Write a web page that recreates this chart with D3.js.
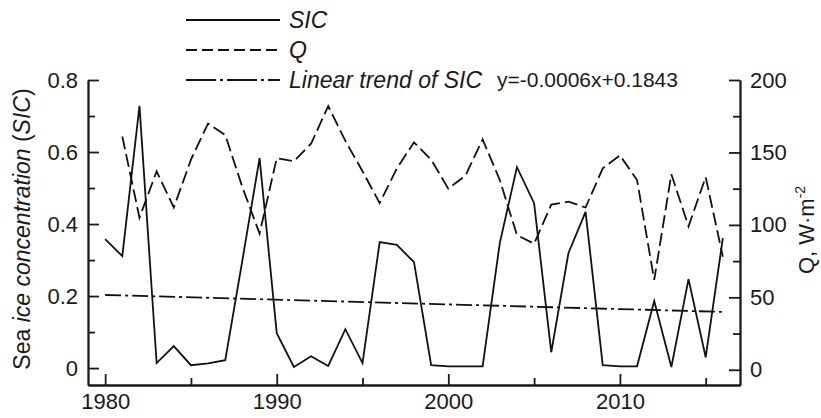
<!DOCTYPE html>
<html>
<head>
<meta charset="utf-8">
<script src="https://cdn.jsdelivr.net/npm/d3@7"></script>
<style>
  body { margin: 0; background: #fff; }
  svg text { font-family: "Liberation Sans", Arial, sans-serif; fill: #1a1a1a; }
</style>
</head>
<body>
<script>
const W = 821, H = 418;

// data
const years = d3.range(1980, 2017);
const sic = [0.358, 0.311, 0.728, 0.014, 0.061, 0.008, 0.013, 0.022, 0.300, 0.583,
             0.097, 0.003, 0.033, 0.006, 0.108, 0.014, 0.350, 0.342, 0.294, 0.008,
             0.005, 0.005, 0.005, 0.347, 0.558, 0.458, 0.044, 0.319, 0.434, 0.008,
             0.005, 0.005, 0.186, 0.003, 0.247, 0.030, 0.361];
const qYears = d3.range(1981, 2017);
const q = [161, 105, 137, 112, 145, 170, 162, 126, 94, 146,
           144, 156, 182, 158, 137, 115, 139, 157, 145, 125,
           134, 159, 131, 93, 87, 114, 116, 112, 139, 148,
           131, 62, 135, 99, 133, 78];
const trendYears = [1980, 2016];
const trendSic = [0.203, 0.156];

const xMajor = [1980, 1990, 2000, 2010];
const xMinor = [1985, 1995, 2005, 2015];
const leftMajor = [0, 0.2, 0.4, 0.6, 0.8];
const leftMinor = [0.1, 0.3, 0.5, 0.7];
const rightMajor = [0, 50, 100, 150, 200];
const rightMinor = [25, 75, 125, 175];

const X0 = 88, X1 = 740, Y0 = 385, Y1 = 80;

let svg = d3.select('body').append('svg')
    .attr('width', W).attr('height', H);

let x = d3.scaleLinear().domain([1979, 2017]).range([X0, X1]);
let yL = d3.scaleLinear().domain([-0.047, 0.8]).range([Y0, Y1]);
let yR = d3.scaleLinear().domain([-10.5, 200]).range([Y0, Y1]);

function styleAxis(g) {
  g.selectAll('path, line').attr('stroke', '#1a1a1a').attr('stroke-width', 1.8);
  g.selectAll('text').attr('font-size', 22).attr('fill', '#1a1a1a')
      .attr('font-family', '"Liberation Sans", Arial, sans-serif');
}

// bottom axis
svg.append('g').attr('transform', 'translate(0,' + Y0 + ')')
    .call(d3.axisBottom(x).tickValues(xMajor).tickFormat(d3.format('d'))
        .tickSizeInner(-11).tickSizeOuter(0).tickPadding(8))
    .call(styleAxis);
svg.append('g').attr('transform', 'translate(0,' + Y0 + ')')
    .call(d3.axisBottom(x).tickValues(xMinor).tickFormat('')
        .tickSizeInner(-7).tickSizeOuter(0))
    .call(styleAxis);

// left axis
svg.append('g').attr('transform', 'translate(' + X0 + ',0)')
    .call(d3.axisLeft(yL).tickValues(leftMajor).tickFormat(d => d === 0 ? '0' : d3.format('.1f')(d))
        .tickSizeInner(-11).tickSizeOuter(0).tickPadding(10))
    .call(styleAxis);
svg.append('g').attr('transform', 'translate(' + X0 + ',0)')
    .call(d3.axisLeft(yL).tickValues(leftMinor).tickFormat('')
        .tickSizeInner(-7).tickSizeOuter(0))
    .call(styleAxis);

// right axis
svg.append('g').attr('transform', 'translate(' + X1 + ',0)')
    .call(d3.axisRight(yR).tickValues(rightMajor)
        .tickSizeInner(-11).tickSizeOuter(0).tickPadding(10))
    .call(styleAxis);
svg.append('g').attr('transform', 'translate(' + X1 + ',0)')
    .call(d3.axisRight(yR).tickValues(rightMinor).tickFormat('')
        .tickSizeInner(-7).tickSizeOuter(0))
    .call(styleAxis);

// series
let lineSic = d3.line().x((d, i) => x(years[i])).y(d => yL(d));
let lineQ = d3.line().x((d, i) => x(qYears[i])).y(d => yR(d));
let lineTrend = d3.line().x((d, i) => x(trendYears[i])).y(d => yL(d));

svg.append('path').attr('d', lineQ(q))
    .attr('fill', 'none').attr('stroke', '#111').attr('stroke-width', 1.8)
    .attr('stroke-dasharray', '13,5');
svg.append('path').attr('d', lineSic(sic))
    .attr('fill', 'none').attr('stroke', '#111').attr('stroke-width', 1.8);
svg.append('path').attr('d', lineTrend(trendSic))
    .attr('fill', 'none').attr('stroke', '#111').attr('stroke-width', 1.8)
    .attr('stroke-dasharray', '16,4,3,4');

// axis titles
let tl = svg.append('text')
    .attr('transform', 'translate(30,229) rotate(-90)')
    .attr('text-anchor', 'middle').attr('font-size', 23);
tl.append('tspan').text('Sea ');
tl.append('tspan').attr('font-style', 'italic').text('ice concentration');
tl.append('tspan').text(' (');
tl.append('tspan').attr('font-style', 'italic').text('SIC');
tl.append('tspan').text(')');

let tr = svg.append('text')
    .attr('transform', 'translate(814,230) rotate(-90)')
    .attr('text-anchor', 'middle').attr('font-size', 22);
tr.append('tspan').text('Q, W·m');
tr.append('tspan').attr('font-size', 14).attr('dy', -9).text('-2');

// legend
const legendItems = [
  { label: 'SIC', dash: null, y: 20 },
  { label: 'Q', dash: '11,5', y: 50 },
  { label: 'Linear trend of SIC', dash: '30,4,3,4', y: 80 }
];
let lg = svg.append('g');
legendItems.forEach(function(it) {
  lg.append('line').attr('x1', 186).attr('x2', 280).attr('y1', it.y).attr('y2', it.y)
      .attr('stroke', '#111').attr('stroke-width', 1.8)
      .attr('stroke-dasharray', it.dash);
  lg.append('text').attr('x', 289).attr('y', it.y + 8)
      .attr('font-size', 23).attr('font-style', 'italic').text(it.label);
});
lg.append('text').attr('x', 497).attr('y', 87).attr('font-size', 21)
    .text('y=-0.0006x+0.1843');
</script>
</body>
</html>
